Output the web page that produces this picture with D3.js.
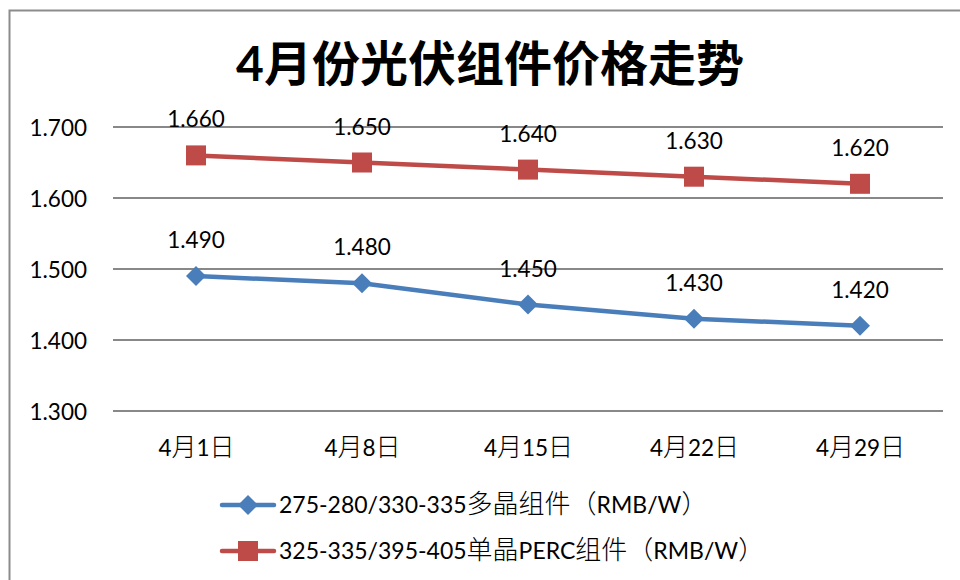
<!DOCTYPE html>
<html>
<head>
<meta charset="utf-8">
<script src="https://cdn.jsdelivr.net/npm/d3@7"></script>
<style>
  html, body { margin: 0; padding: 0; background: #fff; }
  svg { display: block; }
  text { font-family: Lato, "Noto Sans CJK SC", sans-serif; fill: #000; }
  tspan.cjk { font-family: "Noto Sans CJK SC", sans-serif; font-weight: 300; }
</style>
</head>
<body>
<svg id="chart" width="960" height="580"></svg>
<script>
// Weekly module prices for April (RMB/W)
const categories = ["4月1日", "4月8日", "4月15日", "4月22日", "4月29日"];
const polyValues = [1.490, 1.480, 1.450, 1.430, 1.420];
const percValues = [1.660, 1.650, 1.640, 1.630, 1.620];
const yTicks = [1.3, 1.4, 1.5, 1.6, 1.7];
const seriesNames = [
  "275-280/330-335多晶组件（RMB/W）",
  "325-335/395-405单晶PERC组件（RMB/W）"
];
const seriesColors = ["#4a7ebb", "#be4b48"];
const titleText = "4月份光伏组件价格走势";

const series = [
  { name: seriesNames[0], values: polyValues, color: seriesColors[0], marker: "diamond" },
  { name: seriesNames[1], values: percValues, color: seriesColors[1], marker: "square" }
];

const svg = d3.select("#chart");

// split mixed Latin / CJK text into runs so CJK glyphs get their own size
function setMixedText(sel, str, latinSize, cjkSize) {
  sel.text(null);
  const runs = str.match(/[\u3000-\u9fff\uff00-\uffef]+|[^\u3000-\u9fff\uff00-\uffef]+/g) || [];
  runs.forEach(r => {
    const isCjk = /[\u3000-\u9fff\uff00-\uffef]/.test(r);
    sel.append("tspan")
      .attr("class", isCjk ? "cjk" : null)
      .attr("font-size", isCjk ? cjkSize : latinSize)
      .text(r);
  });
}

// outer chart frame
svg.append("rect")
  .attr("x", 9.5).attr("y", 10.5)
  .attr("width", 980).attr("height", 600)
  .attr("fill", "none").attr("stroke", "#8c8c8c").attr("stroke-width", 2);

const x = d3.scalePoint().domain(categories).range([113, 943]).padding(0.5);
const y = d3.scaleLinear().domain([1.3, 1.7]).range([411, 127]);

// title
svg.append("text")
  .attr("x", 490).attr("y", 81)
  .attr("text-anchor", "middle")
  .attr("font-size", 48).attr("font-weight", "bold")
  .text(titleText);

// horizontal gridlines
svg.append("g").selectAll("line").data(yTicks).join("line")
  .attr("x1", 113).attr("x2", 943)
  .attr("y1", d => y(d)).attr("y2", d => y(d))
  .attr("stroke", "#888").attr("stroke-width", 2);

// y axis labels
const yAxis = d3.axisLeft(y).tickValues(yTicks).tickFormat(d3.format(".3f")).tickSize(0).tickPadding(0);
const yg = svg.append("g").attr("transform", "translate(87,0)").call(yAxis);
yg.select(".domain").remove();
yg.selectAll("text").attr("font-size", 22.5).attr("dy", "0.36em")
  .style("font-family", "Lato, 'Noto Sans CJK SC', sans-serif").attr("fill", "#000");

// x axis labels
const xAxis = d3.axisBottom(x).tickSize(0).tickPadding(0);
const xg = svg.append("g").attr("transform", "translate(0,456)").call(xAxis);
xg.select(".domain").remove();
xg.selectAll("text")
  .attr("dy", 0)
  .style("font-family", "Lato, 'Noto Sans CJK SC', sans-serif").attr("fill", "#000")
  .each(function (d) { setMixedText(d3.select(this), d, 22.5, 25); });

const line = d3.line().x((d, i) => x(categories[i])).y(d => y(d));

function drawMarker(g, type, color, cx, cy) {
  if (type === "diamond") {
    g.append("path")
      .attr("d", `M${cx},${cy - 10}L${cx + 10},${cy}L${cx},${cy + 10}L${cx - 10},${cy}Z`)
      .attr("fill", color);
  } else {
    g.append("rect")
      .attr("x", cx - 10).attr("y", cy - 10)
      .attr("width", 20).attr("height", 20)
      .attr("fill", color);
  }
}

series.forEach(s => {
  const g = svg.append("g");
  g.append("path")
    .attr("d", line(s.values))
    .attr("fill", "none")
    .attr("stroke", s.color)
    .attr("stroke-width", 4.5)
    .attr("stroke-linejoin", "round");
  s.values.forEach((v, i) => {
    drawMarker(g, s.marker, s.color, x(categories[i]), y(v));
    g.append("text")
      .attr("x", x(categories[i]))
      .attr("y", y(v) - 28)
      .attr("text-anchor", "middle")
      .attr("font-size", 22.5)
      .text(d3.format(".3f")(v));
  });
});

// legend
const legendY = [505, 551];
series.forEach((s, i) => {
  const g = svg.append("g");
  const ly = legendY[i];
  g.append("line")
    .attr("x1", 222).attr("x2", 274)
    .attr("y1", ly).attr("y2", ly)
    .attr("stroke", s.color).attr("stroke-width", 4.5)
    .attr("stroke-linecap", "round");
  drawMarker(g, s.marker, s.color, 248, ly);
  const t = g.append("text")
    .attr("x", 279).attr("y", ly + 8);
  setMixedText(t, s.name, 23, 26);
});
</script>
</body>
</html>
